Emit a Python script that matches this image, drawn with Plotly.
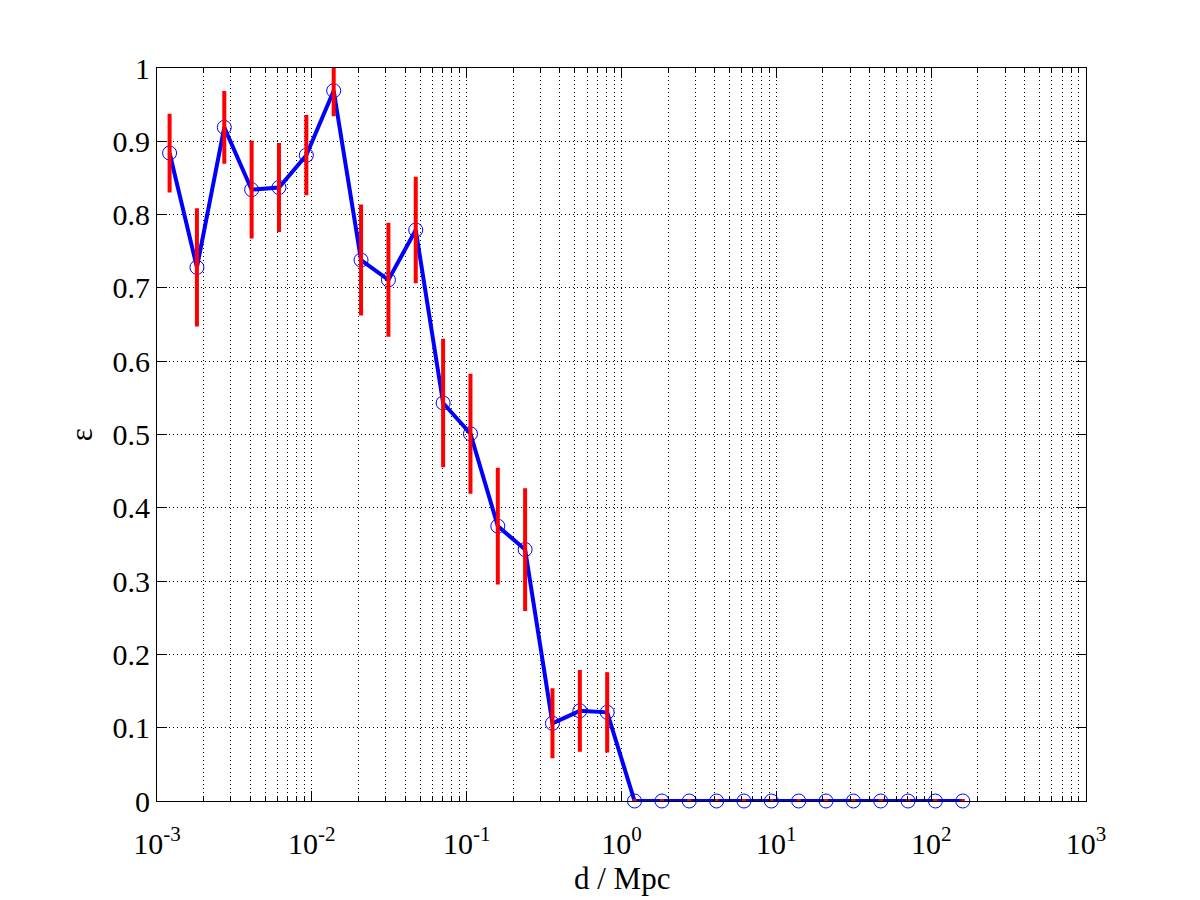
import plotly.graph_objects as go

# distance bins (Mpc)
d_mpc = [0.001206, 0.001811, 0.002720, 0.004085, 0.006135, 0.009216, 0.01384,
         0.02079, 0.03123, 0.04690, 0.07045, 0.1058, 0.1589, 0.2385, 0.3583,
         0.5383, 0.8084, 1.214, 1.824, 2.739, 4.114, 6.179, 9.279, 13.94,
         20.93, 31.44, 47.22, 70.92, 106.5, 160.0]

# efficiency values
eps = [0.884, 0.728, 0.919, 0.834, 0.837, 0.881, 0.969, 0.738, 0.711, 0.779,
       0.543, 0.501, 0.375, 0.343, 0.106, 0.123, 0.121,
       0, 0, 0, 0, 0, 0, 0, 0, 0, 0, 0, 0, 0]

# symmetric errors
eps_err = [0.051, 0.078, 0.047, 0.064, 0.058, 0.052, 0.032, 0.073, 0.075, 0.070,
           0.085, 0.079, 0.077, 0.081, 0.045, 0.053, 0.052,
           0, 0, 0, 0, 0, 0, 0, 0, 0, 0, 0, 0, 0]

x_tickvals = [1e-3, 1e-2, 1e-1, 1e0, 1e1, 1e2, 1e3]
x_ticktext = ["10<sup>-3</sup>", "10<sup>-2</sup>", "10<sup>-1</sup>", "10<sup>0</sup>",
              "10<sup>1</sup>", "10<sup>2</sup>", "10<sup>3</sup>"]
y_tickvals = [0, 0.1, 0.2, 0.3, 0.4, 0.5, 0.6, 0.7, 0.8, 0.9, 1]
y_ticktext = ["0", "0.1", "0.2", "0.3", "0.4", "0.5", "0.6", "0.7", "0.8", "0.9", "1"]

x_title = "d / Mpc"
y_title = "ε"

FONT = "Liberation Serif"
GRID_DASH = "1px,3px"

fig = go.Figure()

fig.add_trace(go.Scatter(
    x=d_mpc, y=eps, mode="lines+markers",
    line=dict(color="#0000FF", width=4),
    marker=dict(symbol="circle-open", size=14, color="#0000FF",
                line=dict(color="#0000FF", width=1)),
    showlegend=False, cliponaxis=False,
))

fig.add_trace(go.Scatter(
    x=d_mpc, y=eps, mode="markers",
    marker=dict(size=1, color="rgba(0,0,0,0)"),
    error_y=dict(type="data", array=eps_err, visible=True,
                 color="#FF0000", thickness=4, width=2),
    showlegend=False, cliponaxis=False, hoverinfo="skip",
))

axis_common = dict(
    showline=True, linecolor="black", linewidth=1, mirror="ticks",
    ticks="inside", ticklen=10, tickcolor="black", tickwidth=1,
    showgrid=True, gridcolor="black", gridwidth=1, griddash=GRID_DASH,
    zeroline=False,
    tickfont=dict(family=FONT, size=30, color="black"),
)

fig.update_xaxes(
    type="log", range=[-3, 3],
    tickvals=x_tickvals, ticktext=x_ticktext,
    minor=dict(ticks="inside", ticklen=5, tickcolor="black", tickwidth=1,
               showgrid=True, gridcolor="black", gridwidth=1, griddash=GRID_DASH,
               dtick="D1"),
    ticklabelstandoff=16,
    **axis_common,
)

fig.update_yaxes(
    range=[0, 1],
    tickvals=y_tickvals, ticktext=y_ticktext,
    ticklabelstandoff=0,
    **axis_common,
)

fig.add_annotation(
    text=x_title, xref="paper", yref="paper", x=0.5, y=-0.079,
    xanchor="center", yanchor="top", showarrow=False,
    font=dict(family=FONT, size=31, color="black"),
)
fig.add_annotation(
    text=y_title, xref="paper", yref="paper", x=-0.081, y=0.5,
    xanchor="center", yanchor="middle", showarrow=False, textangle=-90,
    font=dict(family=FONT, size=31, color="black"),
)

fig.update_layout(
    width=1200, height=900,
    margin=dict(l=149, r=122, t=60, b=107),
    paper_bgcolor="white", plot_bgcolor="white",
    font=dict(family=FONT, size=30, color="black"),
)

fig.write_html("out.html")
